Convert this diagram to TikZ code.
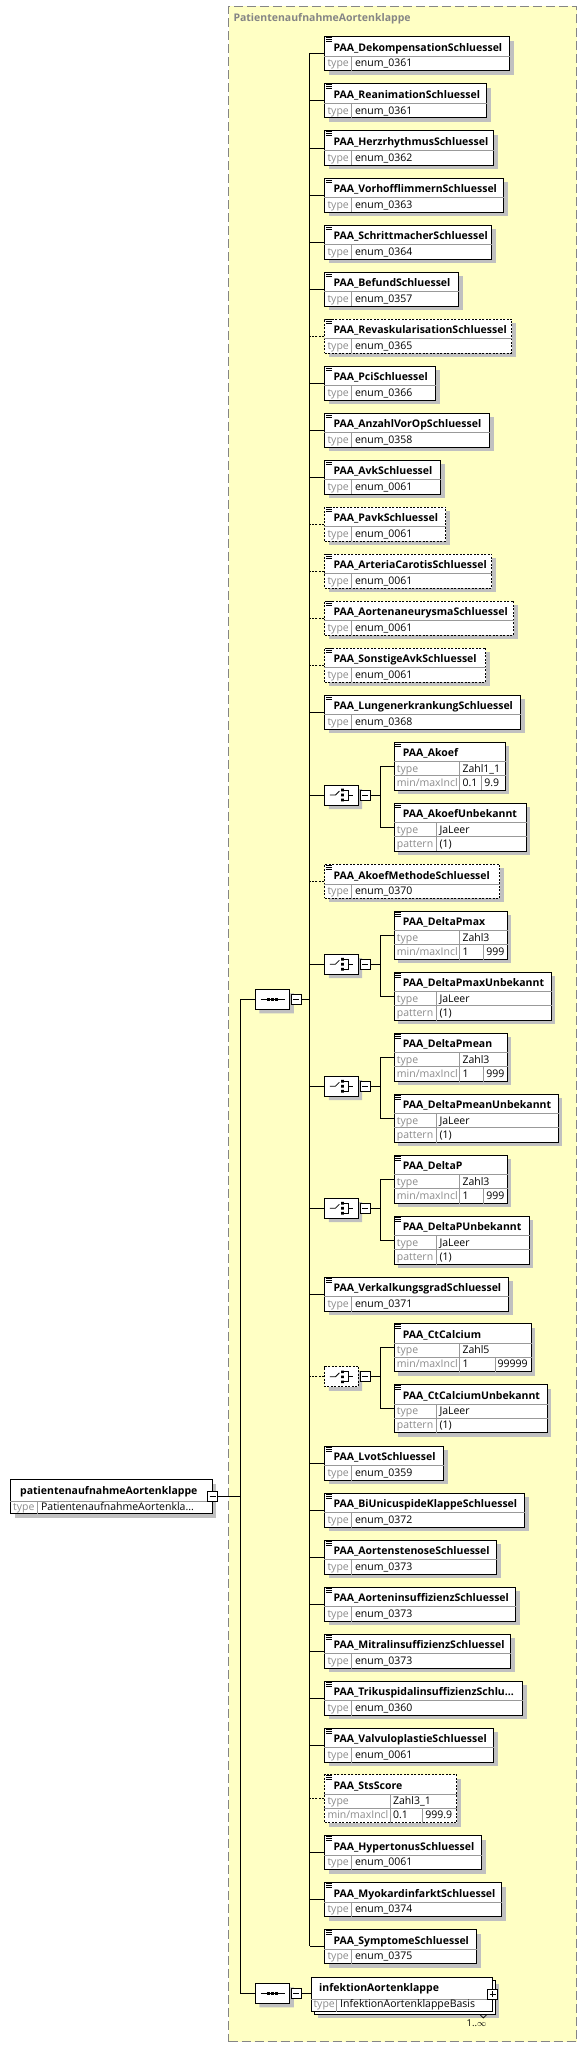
\documentclass[tikz,border=0pt]{standalone}
\usepackage{fontspec}
\setmainfont{Open Sans}
\usetikzlibrary{positioning}
\usetikzlibrary{shapes.misc}
\usetikzlibrary{shadows}
\definecolor{grpyellow}{HTML}{FFFFC4}
\definecolor{shadowgray}{HTML}{C0C0C0}
\definecolor{labelgray}{HTML}{8C8C8C}
\definecolor{rowgray}{HTML}{999999}
\definecolor{framegray}{HTML}{858585}
\newcommand{\diagfont}{\fontsize{10.5}{12}\selectfont}

% three little lines in the corner of an element
\newcommand{\listicon}[1]{%
  \draw[line width=0.6pt] ([shift={(1.5,1.2)}]#1.north west) -- ++(6,0)
    ([shift={(1.5,3.2)}]#1.north west) -- ++(6,0)
    ([shift={(1.5,5.2)}]#1.north west) -- ++(6,0);}
% element with name and type: [style] id, top, width, name, type
\newcommand{\selem}[6][]{%
  \node[elbox,#1,minimum width=#4,minimum height=34] (#2) at (324.3,#3) {};
  \draw[rowline] ([yshift=-20pt]#2.north west) -- ([yshift=-20pt]#2.north east)
    ([shift={(27.4,20)}]#2.north west) -- ([xshift=27.4pt]#2.south west);
  \listicon{#2}
  \node[nametext] at ([shift={(9,15)}]#2.north west) {#5};
  \node[typelabel] at ([shift={(3,30.5)}]#2.north west) {type};
  \node[valtext] at ([shift={(30.6,30.5)}]#2.north west) {#6};
  \draw[conn,#1] (#2.west) -- (#2.west -| spinetop);}
% element with type and min/max: [style] id, position, width, name, type, min, max, split
\newcommand{\relem}[9][]{%
  \node[elbox,#1,minimum width=#4,minimum height=48] (#2) at #3 {};
  \draw[rowline] ([yshift=-20pt]#2.north west) -- ([yshift=-20pt]#2.north east)
    ([yshift=-34pt]#2.north west) -- ([yshift=-34pt]#2.north east)
    ([shift={(65.6,20)}]#2.north west) -- ([xshift=65.6pt]#2.south west)
    ([shift={(#9,34)}]#2.north west) -- ([xshift=#9pt]#2.south west);
  \listicon{#2}
  \node[nametext] at ([shift={(9,15)}]#2.north west) {#5};
  \node[typelabel] at ([shift={(3,30.5)}]#2.north west) {type};
  \node[valtext] at ([shift={(68.6,30.5)}]#2.north west) {#6};
  \node[typelabel] at ([shift={(3,44.5)}]#2.north west) {min/maxIncl};
  \node[valtext] at ([shift={(68.6,44.5)}]#2.north west) {#7};
  \node[valtext] at ([shift={(#9+2.4,44.5)}]#2.north west) {#8};}
% element with type JaLeer and pattern: id, position, width, name
\newcommand{\pelem}[4]{%
  \node[elbox,minimum width=#3,minimum height=48] (#1) at #2 {};
  \draw[rowline] ([yshift=-20pt]#1.north west) -- ([yshift=-20pt]#1.north east)
    ([yshift=-34pt]#1.north west) -- ([yshift=-34pt]#1.north east)
    ([shift={(42.6,20)}]#1.north west) -- ([xshift=42.6pt]#1.south west);
  \listicon{#1}
  \node[nametext] at ([shift={(9,15)}]#1.north west) {#4};
  \node[typelabel] at ([shift={(3,30.5)}]#1.north west) {type};
  \node[valtext] at ([shift={(45.6,30.5)}]#1.north west) {JaLeer};
  \node[typelabel] at ([shift={(3,44.5)}]#1.north west) {pattern};
  \node[valtext] at ([shift={(45.6,44.5)}]#1.north west) {(1)};}
% choice compositor: [style] id, centre y
\newcommand{\choicebox}[3][]{%
  \node[compo,#1,minimum width=33.4] (#2) at (324.3,#3) {};
  \node[minusbox] (#2m) at ([xshift=1pt]#2.east) {};
  \coordinate (#2j) at ([xshift=10pt]#2m.east);
  \draw[icon] ([xshift=-11.7pt]#2.center) -- ([xshift=-6pt]#2.center) -- ([shift={(-2,-4)}]#2.center);
  \fill ([shift={(-0.3,-6.3)}]#2.center) rectangle ++(2.8,2.6)
    ([shift={(-0.3,-1.3)}]#2.center) rectangle ++(2.8,2.6)
    ([shift={(-0.3,3.7)}]#2.center) rectangle ++(2.8,2.6);
  \draw[icon] ([shift={(2.5,-5)}]#2.center) -- ++(4.2,0) -- ++(0,10) -- ++(-4.2,0)
    ([shift={(6.7,0)}]#2.center) -- ++(5,0);
  \draw[conn,#1] (#2.west) -- (#2.west -| spinetop);
  \draw[conn] (#2m.east) -- (#2j);}

\begin{document}
\begin{tikzpicture}[x=1pt,y=-1pt,
    conn/.style={line width=0.9pt},
    icon/.style={line width=0.8pt},
    opt/.style={dash pattern=on 2pt off 1.5pt},
    plainbox/.style={draw,fill=white,line width=0.9pt,inner sep=0pt,anchor=north west},
    elbox/.style={plainbox,drop shadow={shadow xshift=4pt,shadow yshift=-4pt,fill=shadowgray,opacity=1}},
    rowline/.style={draw=rowgray,line width=0.7pt},
    nametext/.style={font=\bfseries\diagfont,anchor=base west,inner sep=0pt},
    typelabel/.style={font=\diagfont,text=labelgray,anchor=base west,inner sep=0pt},
    valtext/.style={font=\diagfont,anchor=base west,inner sep=0pt},
    compo/.style={chamfered rectangle,chamfered rectangle xsep=5pt,chamfered rectangle ysep=5pt,
      draw,fill=white,line width=0.9pt,inner sep=0pt,minimum height=20,anchor=west,
      drop shadow={shadow xshift=4pt,shadow yshift=-4pt,fill=shadowgray,opacity=1}},
    minusbox/.style={draw,fill=white,line width=0.8pt,minimum size=10pt,inner sep=0pt,anchor=west,
      path picture={\draw[line width=0.8pt] ([xshift=2pt]path picture bounding box.west) -- ([xshift=-2pt]path picture bounding box.east);}},
    plusbox/.style={minusbox,
      path picture={\draw[line width=0.8pt] ([xshift=2pt]path picture bounding box.west) -- ([xshift=-2pt]path picture bounding box.east)
        ([yshift=-2pt]path picture bounding box.north) -- ([yshift=2pt]path picture bounding box.south);}}]
  \useasboundingbox (0,0) rectangle (586,2047);

  % group area
  \node[draw=framegray,fill=grpyellow,line width=1pt,dash pattern=on 9pt off 4pt,inner sep=0pt,
    minimum width=348,minimum height=2035,anchor=north west] (grp) at (228,6) {};
  \node[font=\bfseries\diagfont,text=framegray,anchor=base west,inner sep=0pt] (grptitle) at (233.3,21.7) {PatientenaufnahmeAortenklappe};

  \coordinate (spinetop) at (309.7,53.5);
  \coordinate (spinebot) at (309.7,1946.3);
  \coordinate (outer) at (240,999.3);
  \draw[conn] (spinetop) -- (spinebot);

  % root element
  \node[elbox,minimum width=201.4,minimum height=34] (root) at (10.3,1479.3) {};
  \draw[rowline] ([yshift=-21.7pt]root.north west) -- ([yshift=-21.7pt]root.north east)
    ([shift={(27.4,21.7)}]root.north west) -- ([xshift=27.4pt]root.south west);
  \node[nametext] at ([shift={(9.7,15)}]root.north west) {patientenaufnahmeAortenklappe};
  \node[typelabel] at ([shift={(2.7,31.5)}]root.north west) {type};
  \node[valtext] at ([shift={(30.6,31.5)}]root.north west) {PatientenaufnahmeAortenkla...};
  \node[minusbox,anchor=center] (rootm) at (root.east) {};
  \draw[conn] (rootm.east) -- (rootm.east -| outer);

  % sequences
  \node[compo,minimum width=34.3] (seqA) at (255,999.3) {};
  \node[minusbox] (seqAm) at ([xshift=0.7pt]seqA.east) {};
  \node[compo,minimum width=34.3] (seqB) at (255,1993.3) {};
  \node[minusbox] (seqBm) at ([xshift=0.7pt]seqB.east) {};
  \foreach \s in {seqA,seqB}{
    \draw[icon] ([xshift=-12pt]\s.center) -- ([xshift=12pt]\s.center);
    \foreach \d in {-4,0,4}
      \fill ([shift={(\d-1.5,-1.5)}]\s.center) rectangle ++(3,3);
  }
  \draw[conn] (seqA.west) -- (outer) -- (seqB.west -| outer) -- (seqB.west);
  \draw[conn] (seqAm.east) -- (seqAm.east -| spinetop);

  % simple elements
  \selem{dek}{36.5}{185}{PAA\_DekompensationSchluessel}{enum\_0361}
  \selem{rea}{83.5}{162}{PAA\_ReanimationSchluessel}{enum\_0361}
  \selem{herz}{130.5}{169}{PAA\_HerzrhythmusSchluessel}{enum\_0362}
  \selem{vorhof}{177.5}{179}{PAA\_VorhofflimmernSchluessel}{enum\_0363}
  \selem{schritt}{224.5}{167}{PAA\_SchrittmacherSchluessel}{enum\_0364}
  \selem{befund}{271.5}{134}{PAA\_BefundSchluessel}{enum\_0357}
  \selem[opt]{revask}{318.5}{187}{PAA\_RevaskularisationSchluessel}{enum\_0365}
  \selem{pci}{365.5}{111}{PAA\_PciSchluessel}{enum\_0366}
  \selem{anzahl}{412.5}{165}{PAA\_AnzahlVorOpSchluessel}{enum\_0358}
  \selem{avk}{459.5}{116}{PAA\_AvkSchluessel}{enum\_0061}
  \selem[opt]{pavk}{506.5}{121}{PAA\_PavkSchluessel}{enum\_0061}
  \selem[opt]{carotis}{553.5}{167}{PAA\_ArteriaCarotisSchluessel}{enum\_0061}
  \selem[opt]{aneur}{600.5}{189}{PAA\_AortenaneurysmaSchluessel}{enum\_0061}
  \selem[opt]{sonstavk}{647.5}{161}{PAA\_SonstigeAvkSchluessel}{enum\_0061}
  \selem{lunge}{694.5}{196}{PAA\_LungenerkrankungSchluessel}{enum\_0368}

  % Akoef
  \choicebox{chakoef}{795}
  \relem{akoef}{(393.7,741.5)}{111}{PAA\_Akoef}{Zahl1\_1}{0.1}{9.9}{88}
  \pelem{akoefu}{(393.7,802.5)}{132}{PAA\_AkoefUnbekannt}
  \draw[conn] (akoef.west) -| (chakoefj) |- (akoefu.west);

  \selem[opt]{methode}{864}{175}{PAA\_AkoefMethodeSchluessel}{enum\_0370}

  % DeltaPmax
  \choicebox{chdpmax}{964.2}
  \relem{dpmax}{(393.7,910.7)}{113}{PAA\_DeltaPmax}{Zahl3}{1}{999}{90}
  \pelem{dpmaxu}{(393.7,971.7)}{157}{PAA\_DeltaPmaxUnbekannt}
  \draw[conn] (dpmax.west) -| (chdpmaxj) |- (dpmaxu.west);

  % DeltaPmean
  \choicebox{chdpmean}{1086.2}
  \relem{dpmean}{(393.7,1032.7)}{113}{PAA\_DeltaPmean}{Zahl3}{1}{999}{90}
  \pelem{dpmeanu}{(393.7,1093.7)}{164}{PAA\_DeltaPmeanUnbekannt}
  \draw[conn] (dpmean.west) -| (chdpmeanj) |- (dpmeanu.west);

  % DeltaP
  \choicebox{chdp}{1208.2}
  \relem{dp}{(393.7,1154.7)}{113}{PAA\_DeltaP}{Zahl3}{1}{999}{90}
  \pelem{dpu}{(393.7,1215.7)}{135}{PAA\_DeltaPUnbekannt}
  \draw[conn] (dp.west) -| (chdpj) |- (dpu.west);

  \selem{verkalk}{1276.7}{184}{PAA\_VerkalkungsgradSchluessel}{enum\_0371}

  % CtCalcium
  \choicebox[opt]{chct}{1376.8}
  \relem{ctcal}{(393.7,1323.3)}{137}{PAA\_CtCalcium}{Zahl5}{1}{99999}{101.3}
  \pelem{ctcalu}{(393.7,1384.3)}{153}{PAA\_CtCalciumUnbekannt}
  \draw[conn] (ctcal.west) -| (chctj) |- (ctcalu.west);

  \selem{lvot}{1445.7}{119}{PAA\_LvotSchluessel}{enum\_0359}
  \selem{biuni}{1492.7}{200}{PAA\_BiUnicuspideKlappeSchluessel}{enum\_0372}
  \selem{stenose}{1539.7}{172}{PAA\_AortenstenoseSchluessel}{enum\_0373}
  \selem{aoinsuff}{1586.7}{191}{PAA\_AorteninsuffizienzSchluessel}{enum\_0373}
  \selem{mitral}{1633.7}{186}{PAA\_MitralinsuffizienzSchluessel}{enum\_0373}
  \selem{triku}{1680.7}{198}{PAA\_TrikuspidalinsuffizienzSchlu...}{enum\_0360}
  \selem{valvulo}{1727.7}{169}{PAA\_ValvuloplastieSchluessel}{enum\_0061}
  \relem[opt]{sts}{(324.3,1774.3)}{132}{PAA\_StsScore}{Zahl3\_1}{0.1}{999.9}{98.4}
  \draw[conn,opt] (sts.west) -- (sts.west -| spinetop);
  \selem{hyper}{1835.3}{157}{PAA\_HypertonusSchluessel}{enum\_0061}
  \selem{myo}{1882.3}{177}{PAA\_MyokardinfarktSchluessel}{enum\_0374}
  \selem{sympt}{1929.3}{152}{PAA\_SymptomeSchluessel}{enum\_0375}

  % infektionAortenklappe, 1..unbounded
  \node[elbox,minimum width=181,minimum height=34] (infekbk) at (313.7,1979.7) {};
  \node[plainbox,minimum width=181,minimum height=34] (infek) at (310.7,1976.7) {};
  \draw[rowline] ([yshift=-22.6pt]infek.north west) -- ([yshift=-22.6pt]infek.north east)
    ([shift={(25.6,22.6)}]infek.north west) -- ([xshift=25.6pt]infek.south west);
  \node[nametext] at ([shift={(8.3,15)}]infek.north west) {infektionAortenklappe};
  \node[typelabel] at ([shift={(2.6,31)}]infek.north west) {type};
  \node[valtext] at ([shift={(29.3,31)}]infek.north west) {InfektionAortenklappeBasis};
  \node[plusbox,anchor=center] (infekp) at (infek.east) {};
  \draw[line width=0.7pt] ([xshift=-15.5pt]infekbk.south east) -- ++(3.3,3.3) -- ++(3.3,-3.3);
  \node[font=\fontsize{9.5}{11}\selectfont,anchor=base east,inner sep=0pt] (infekmult) at (486.5,2026.7) {1..$\infty$};
  \draw[conn] (seqBm.east) -- (infek.west |- seqBm.east);
\end{tikzpicture}
\end{document}
